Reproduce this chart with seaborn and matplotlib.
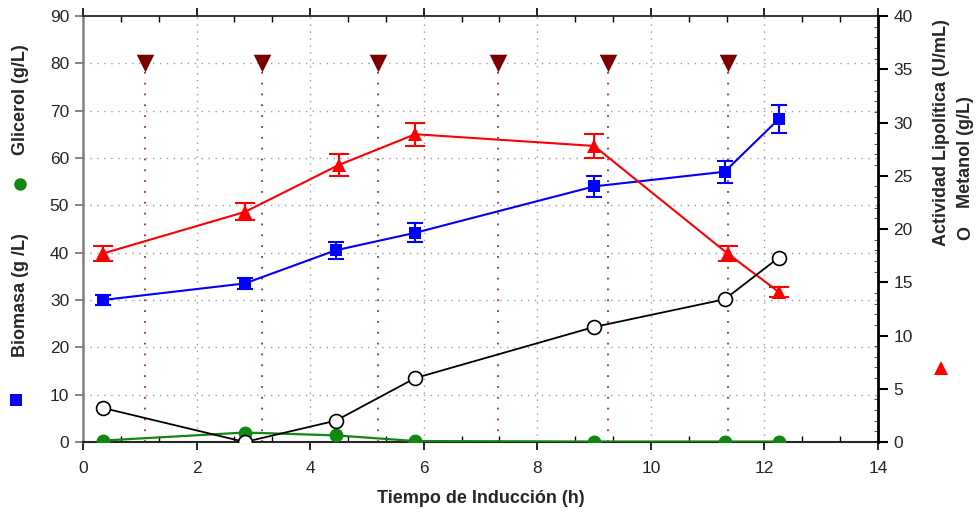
import matplotlib
matplotlib.use("Agg")
import matplotlib.pyplot as plt
from matplotlib.ticker import MultipleLocator
from matplotlib.lines import Line2D
import seaborn as sns
import pandas as pd

sns.set_style("white")
plt.rcParams["font.family"] = ["Liberation Sans", "DejaVu Sans"]

# Induction time (h) for each sample
t_bio = [0.35, 2.85, 4.45, 5.85, 9.0, 11.3, 12.25]
biomasa = [30.0, 33.5, 40.5, 44.2, 54.0, 57.1, 68.2]
biomasa_err = [1.0, 1.2, 1.8, 2.0, 2.3, 2.3, 3.0]

t_gli = [0.35, 2.85, 4.45, 5.85, 9.0, 11.3, 12.25]
glicerol = [0.3, 2.0, 1.4, 0.2, 0.1, 0.1, 0.1]

t_act = [0.35, 2.85, 4.5, 5.85, 9.0, 11.35, 12.25]
actividad = [17.7, 21.6, 26.0, 28.9, 27.8, 17.7, 14.1]
actividad_err = [0.7, 0.8, 1.0, 1.1, 1.1, 0.7, 0.5]

t_met = [0.35, 2.85, 4.45, 5.85, 9.0, 11.3, 12.25]
metanol = [3.2, 0.0, 2.0, 6.0, 10.8, 13.4, 17.3]

# Methanol feed pulses (h)
t_pulsos = [1.1, 3.15, 5.2, 7.3, 9.25, 11.35]
nivel_pulso = 80

df_bio = pd.DataFrame({"t": t_bio, "y": biomasa, "e": biomasa_err})
df_gli = pd.DataFrame({"t": t_gli, "y": glicerol})
df_act = pd.DataFrame({"t": t_act, "y": actividad, "e": actividad_err})
df_met = pd.DataFrame({"t": t_met, "y": metanol})
df_pul = pd.DataFrame({"t": t_pulsos, "y": [nivel_pulso] * len(t_pulsos)})

fig = plt.figure(figsize=(9.76, 5.15), dpi=100)
ax = fig.add_axes([83 / 976, 1 - 442 / 515, (878 - 83) / 976, (442 - 16) / 515])
ax2 = ax.twinx()

grid_kw = dict(color="#9a9a9a", lw=1.0, ls=(0, (1, 4)), zorder=0)

ax.set_xlim(0, 14)
ax.set_ylim(0, 90)
ax2.set_ylim(0, 40)

# background grid
for gy in range(10, 90, 10):
    ax.axhline(gy, **grid_kw)
for gx in range(2, 14, 2):
    ax.axvline(gx, **grid_kw)

# feed pulse markers with dotted drop lines
for tp in t_pulsos:
    ax.plot([tp, tp], [0, nivel_pulso], color="#a03030", lw=1.3,
            ls=(0, (1, 5)), zorder=1)
sns.scatterplot(data=df_pul, x="t", y="y", ax=ax, marker="v", s=160,
                color="#7a0000", edgecolor="#7a0000", linewidth=0, zorder=5,
                legend=False)

# biomass
ax.errorbar(df_bio["t"], df_bio["y"], yerr=df_bio["e"], fmt="none",
            ecolor="#0000ff", elinewidth=1.5, capsize=6, capthick=1.5, zorder=3)
sns.lineplot(data=df_bio, x="t", y="y", ax=ax, color="#0000ff", lw=1.5,
             marker="s", markersize=9, markeredgecolor="#0000ff",
             markeredgewidth=0, zorder=4, legend=False)

# glycerol
sns.lineplot(data=df_gli, x="t", y="y", ax=ax, color="#118811", lw=1.6,
             marker="o", markersize=10, markeredgecolor="#118811",
             markeredgewidth=0, zorder=4, legend=False)

# lipolytic activity
ax2.errorbar(df_act["t"], df_act["y"], yerr=df_act["e"], fmt="none",
             ecolor="#ff0000", elinewidth=1.5, capsize=7, capthick=1.5, zorder=3)
sns.lineplot(data=df_act, x="t", y="y", ax=ax2, color="#ff0000", lw=1.5,
             marker="^", markersize=10, markeredgecolor="#ff0000",
             markeredgewidth=0, zorder=4, legend=False)

# methanol
sns.lineplot(data=df_met, x="t", y="y", ax=ax2, color="black", lw=1.3,
             marker="o", markersize=10, markerfacecolor="white",
             markeredgecolor="black", markeredgewidth=1.2, zorder=4,
             legend=False)

# axes styling
for a in (ax, ax2):
    a.set_xlabel("")
    a.set_ylabel("")
    a.set_facecolor("none")

ax.set_xticks(range(0, 15, 2))
ax.xaxis.set_minor_locator(MultipleLocator(2 / 3))
ax.set_yticks(range(0, 91, 10))
ax2.set_yticks(range(0, 41, 5))
ax2.yaxis.set_minor_locator(MultipleLocator(1))

ax.tick_params(axis="x", which="major", direction="out", length=6, width=1.2,
               labelsize=12.5, top=True, bottom=True, pad=8, color="black")
ax.tick_params(axis="x", which="minor", direction="in", length=4, width=1.0,
               top=True, bottom=True, color="black")
ax.tick_params(axis="y", which="major", direction="out", length=6, width=1.2,
               labelsize=12.5, left=True, right=False, color="#707070", pad=4)
ax2.tick_params(axis="y", which="major", direction="out", length=7, width=1.5,
                labelsize=12.5, right=True, color="black", pad=4)
ax2.tick_params(axis="y", which="minor", direction="in", length=3, width=0.8,
                right=True, color="#555555")

ax.spines["left"].set_color("#808080")
ax.spines["left"].set_linewidth(1.8)
ax.spines["bottom"].set_linewidth(1.5)
ax.spines["top"].set_linewidth(1.3)
for s in ("left", "bottom", "top"):
    ax2.spines[s].set_visible(False)
ax.spines["right"].set_visible(False)
ax2.spines["right"].set_linewidth(2.0)
ax2.spines["right"].set_color("black")
ax2.spines["top"].set_visible(False)

ax.set_xlabel("Tiempo de Inducción (h)", fontsize=13, fontweight="bold",
              labelpad=10)

# composite y-axis titles with series symbols
W, H = 976, 515


def fx(px):
    return px / W


def fy(py):
    return 1 - py / H


lab_kw = dict(rotation=90, fontsize=13, fontweight="bold", ha="center",
              va="center")
fig.add_artist(Line2D([fx(16)], [fy(400)], marker="s", markersize=9,
                      color="#0000ff", markeredgewidth=0, transform=fig.transFigure))
fig.text(fx(21), fy(295), "Biomasa (g /L)", **lab_kw)
fig.add_artist(Line2D([fx(20)], [fy(184)], marker="o", markersize=9,
                      color="#118811", markeredgewidth=0, transform=fig.transFigure))
fig.text(fx(21), fy(100), "Glicerol (g/L)", **lab_kw)

fig.text(fx(941), fy(133), "Actividad Lipolítica (U/mL)", **lab_kw)
fig.text(fx(966), fy(152), "Metanol (g/L)", **lab_kw)
fig.text(fx(966), fy(233), "O", **lab_kw)
fig.add_artist(Line2D([fx(941)], [fy(368)], marker="^", markersize=10,
                      color="#ff0000", markeredgewidth=0, transform=fig.transFigure))

fig.savefig("out.png", dpi=100)
